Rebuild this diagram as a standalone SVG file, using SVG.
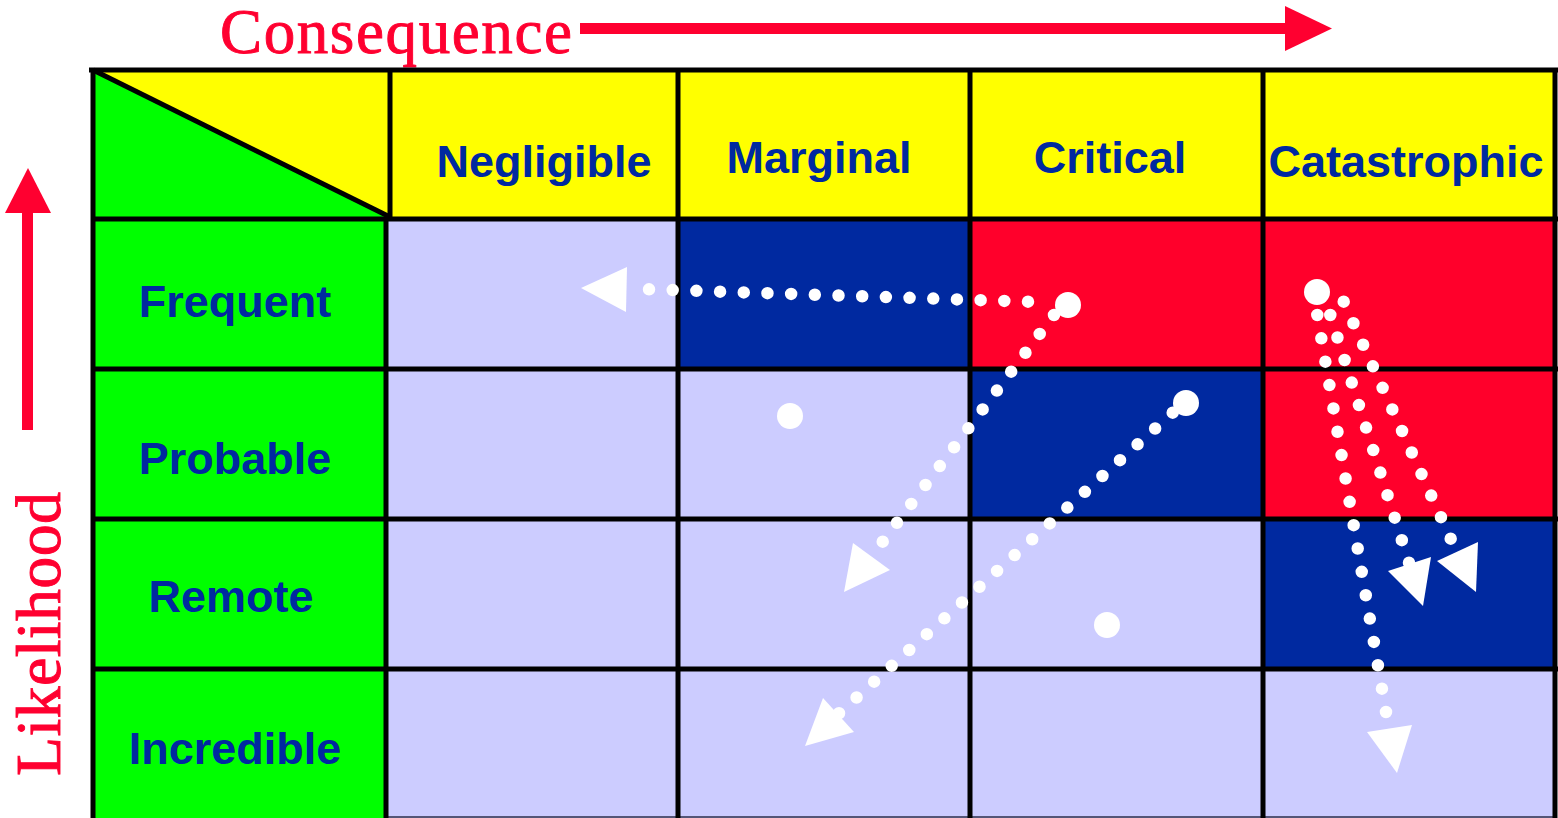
<svg xmlns="http://www.w3.org/2000/svg" width="1558" height="818" viewBox="0 0 1558 818">
<style>
.hd{fill:#FFFF00}
.gr{fill:#00FF00}
.lv{fill:#CCCCFF}
.db{fill:#0029A0}
.rd{fill:#FF002B}
.lbl{font-family:"Liberation Sans",Arial,sans-serif;font-weight:bold;font-size:45px;fill:#0029A0;text-anchor:middle}
.ttl{font-family:"Liberation Serif","Times New Roman",serif;fill:#FF0030;stroke:#FF0030;stroke-width:0.9}
.grid{stroke:#000;stroke-width:5;fill:none}
.dots{fill:none;stroke:#FFFFFF;stroke-width:12.5;stroke-linecap:round;stroke-dasharray:0 1}
.wh{fill:#FFFFFF}
.ax{fill:#FF0030}
</style>
<rect width="1558" height="818" fill="#FFFFFF"/>

<g id="axes">
  <text class="ttl" x="220" y="53" font-size="63" textLength="352" lengthAdjust="spacing">Consequence</text>
  <rect class="ax" x="580" y="23" width="707" height="11"/>
  <polygon class="ax" points="1285,6 1332,28.5 1285,51"/>
  <rect class="ax" x="22" y="210" width="11" height="220"/>
  <polygon class="ax" points="5,213 28,168 51,213"/>
  <text class="ttl" transform="translate(60,776) rotate(-90)" x="0" y="0" font-size="64" textLength="284" lengthAdjust="spacing">Likelihood</text>
</g>

<g id="header">
  <rect class="hd" x="93" y="70" width="1463" height="149"/>
  <polygon class="gr" points="93,70 390,219 93,219"/>
  <g id="h-negligible"><text class="lbl" x="544" y="177">Negligible</text></g>
  <g id="h-marginal"><text class="lbl" x="819" y="173">Marginal</text></g>
  <g id="h-critical"><text class="lbl" x="1110" y="173">Critical</text></g>
  <g id="h-catastrophic"><text class="lbl" x="1406" y="177">Catastrophic</text></g>
</g>

<g id="rows">
  <rect class="gr" x="93" y="219" width="293" height="599"/>
  <g id="r-frequent"><text class="lbl" x="235" y="317">Frequent</text></g>
  <g id="r-probable"><text class="lbl" x="235" y="474">Probable</text></g>
  <g id="r-remote"><text class="lbl" x="231" y="612">Remote</text></g>
  <g id="r-incredible"><text class="lbl" x="235" y="764">Incredible</text></g>
</g>

<g id="cells">
  <rect class="lv" x="386" y="219" width="1170" height="599"/>
  <rect class="db" x="678" y="219" width="292" height="150"/>
  <rect class="rd" x="970" y="219" width="293" height="150"/>
  <rect class="rd" x="1263" y="219" width="293" height="150"/>
  <rect class="db" x="970" y="369" width="293" height="150"/>
  <rect class="rd" x="1263" y="369" width="293" height="150"/>
  <rect class="db" x="1263" y="519" width="293" height="150"/>
  <path d="M386,817H1556" stroke="#555577" stroke-width="2" fill="none"/>
</g>

<g id="gridlines">
  <path class="grid" d="M89,70H1558 M93,219H1558 M93,369H1558 M93,519H1558 M93,669H1558"/>
  <path class="grid" d="M93,68V818 M390,70V219 M386,219V818 M678,70V818 M970,70V818 M1263,70V818 M1555,70V818"/>
  <path class="grid" d="M93,70L390,217"/>
</g>

<g id="connectors">
  <path class="dots" d="M1028,301.7L649,289.3" pathLength="16.001"/>
  <polygon class="wh" points="581,288 627,267 626,312"/>
  <path class="dots" d="M1054,315L882.7,541.7" pathLength="12.001"/>
  <polygon class="wh" points="853,543 844,592 890,570"/>
  <path class="dots" d="M1172.7,412.7L839,713.3" pathLength="19.001"/>
  <polygon class="wh" points="823,698 805,746 854,732"/>
  <path class="dots" d="M1317.3,315L1386,712" pathLength="17.001"/>
  <polygon class="wh" points="1367,732 1412,725 1397,773"/>
  <path class="dots" d="M1330.3,315L1409,562.7" pathLength="11.001"/>
  <polygon class="wh" points="1388,571 1431,557 1423,606"/>
  <path class="dots" d="M1343.7,301.7L1450.7,538.7" pathLength="11.001"/>
  <polygon class="wh" points="1437,561 1478,542 1476,592"/>
  <circle class="wh" cx="1068" cy="305" r="13"/>
  <circle class="wh" cx="1186" cy="403" r="13"/>
  <circle class="wh" cx="1317" cy="292" r="13"/>
</g>

<g id="markers">
  <circle class="wh" cx="790" cy="416" r="13"/>
  <circle class="wh" cx="1107" cy="625" r="13"/>
</g>
</svg>
